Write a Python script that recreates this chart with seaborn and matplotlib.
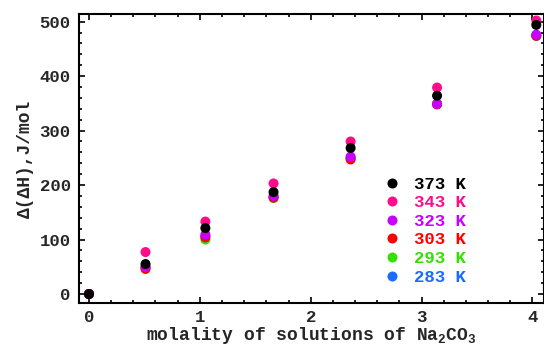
import matplotlib
matplotlib.use("Agg")
import matplotlib.pyplot as plt
from matplotlib.ticker import MultipleLocator
import pandas as pd
import seaborn as sns

# Molality of Na2CO3 solutions, mol/kg
molality = [0.0, 0.51, 1.05, 1.665, 2.36, 3.14, 4.035]

# Excess enthalpy change Δ(ΔH), J/mol, for each temperature
temps = ["373 K", "343 K", "323 K", "303 K", "293 K", "283 K"]
dh_373 = [0, 55, 121, 187, 268, 364, 494]
dh_343 = [0, 77, 133, 203, 280, 379, 502]
dh_323 = [0, 50, 109, 180, 252, 349, 476]
dh_303 = [0, 46, 104, 177, 247, 348, 474]
dh_293 = [0, 48, 100, 176, 249, 349, 474]
dh_283 = [0, 49, 106, 178, 250, 349, 474]

colors = {
    "373 K": "#000000",
    "343 K": "#ff0c8c",
    "323 K": "#c800ff",
    "303 K": "#ff0000",
    "293 K": "#33e000",
    "283 K": "#1a6cff",
}

series = {
    "373 K": dh_373, "343 K": dh_343, "323 K": dh_323,
    "303 K": dh_303, "293 K": dh_293, "283 K": dh_283,
}

# long table; the coldest series comes first so 373 K is drawn on top
rows = []
for t in reversed(temps):
    for m, v in zip(molality, series[t]):
        rows.append({"molality": m, "dH": v, "T": t})
df = pd.DataFrame(rows)

sns.set_theme(style="white")
mono = ["Liberation Mono", "DejaVu Sans Mono"]
plt.rcParams["font.family"] = mono
plt.rcParams["mathtext.fontset"] = "custom"
plt.rcParams["mathtext.rm"] = "Liberation Mono"
plt.rcParams["mathtext.it"] = "Liberation Mono"
plt.rcParams["mathtext.bf"] = "Liberation Mono:bold"

fig = plt.figure(figsize=(5.44, 3.45), dpi=100)
ax = fig.add_axes([79 / 544, 1 - 303 / 345, (543.5 - 79) / 544, (303 - 14) / 345])

sns.scatterplot(data=df, x="molality", y="dH", hue="T", hue_order=temps,
                palette=colors, s=52, linewidth=0, edgecolor="none", ax=ax)

ax.set_xlim(-0.09, 4.1)
ax.set_ylim(-16.5, 514)
ax.xaxis.set_major_locator(MultipleLocator(1))
ax.xaxis.set_minor_locator(MultipleLocator(0.2))
ax.yaxis.set_major_locator(MultipleLocator(100))
ax.yaxis.set_minor_locator(MultipleLocator(20))
ax.tick_params(which="both", direction="in", top=True, right=True,
               bottom=True, left=True, color="black", width=1.2)
ax.tick_params(which="major", length=4.5)
ax.tick_params(which="minor", length=2.5)
ax.tick_params(axis="y", which="major", pad=6, labelsize=12.5)
ax.tick_params(axis="x", which="major", pad=5, labelsize=12.5)
for lbl in ax.get_xticklabels() + ax.get_yticklabels():
    lbl.set_fontweight("bold")
for sp in ax.spines.values():
    sp.set_color("black")
    sp.set_linewidth(1.5)

ax.set_xlabel(r"molality of solutions of Na$_{\mathbf{2}}$CO$_{\mathbf{3}}$",
              fontsize=13, fontweight="bold", labelpad=0)
ax.set_ylabel("Δ(ΔH),J/mol", fontsize=13, fontweight="bold", labelpad=4)

handles, labels = ax.get_legend_handles_labels()
ax.get_legend().remove()
leg = ax.legend(handles, labels, loc="upper left", bbox_to_anchor=(0.637, 0.462),
                frameon=False, handletextpad=0.66, handlelength=1.2,
                labelspacing=0.2, borderaxespad=0, markerscale=1.0,
                prop={"family": mono, "size": 12.5, "weight": "bold"})
for txt, t in zip(leg.get_texts(), labels):
    txt.set_color(colors[t])

fig.savefig("out.png", dpi=100)
